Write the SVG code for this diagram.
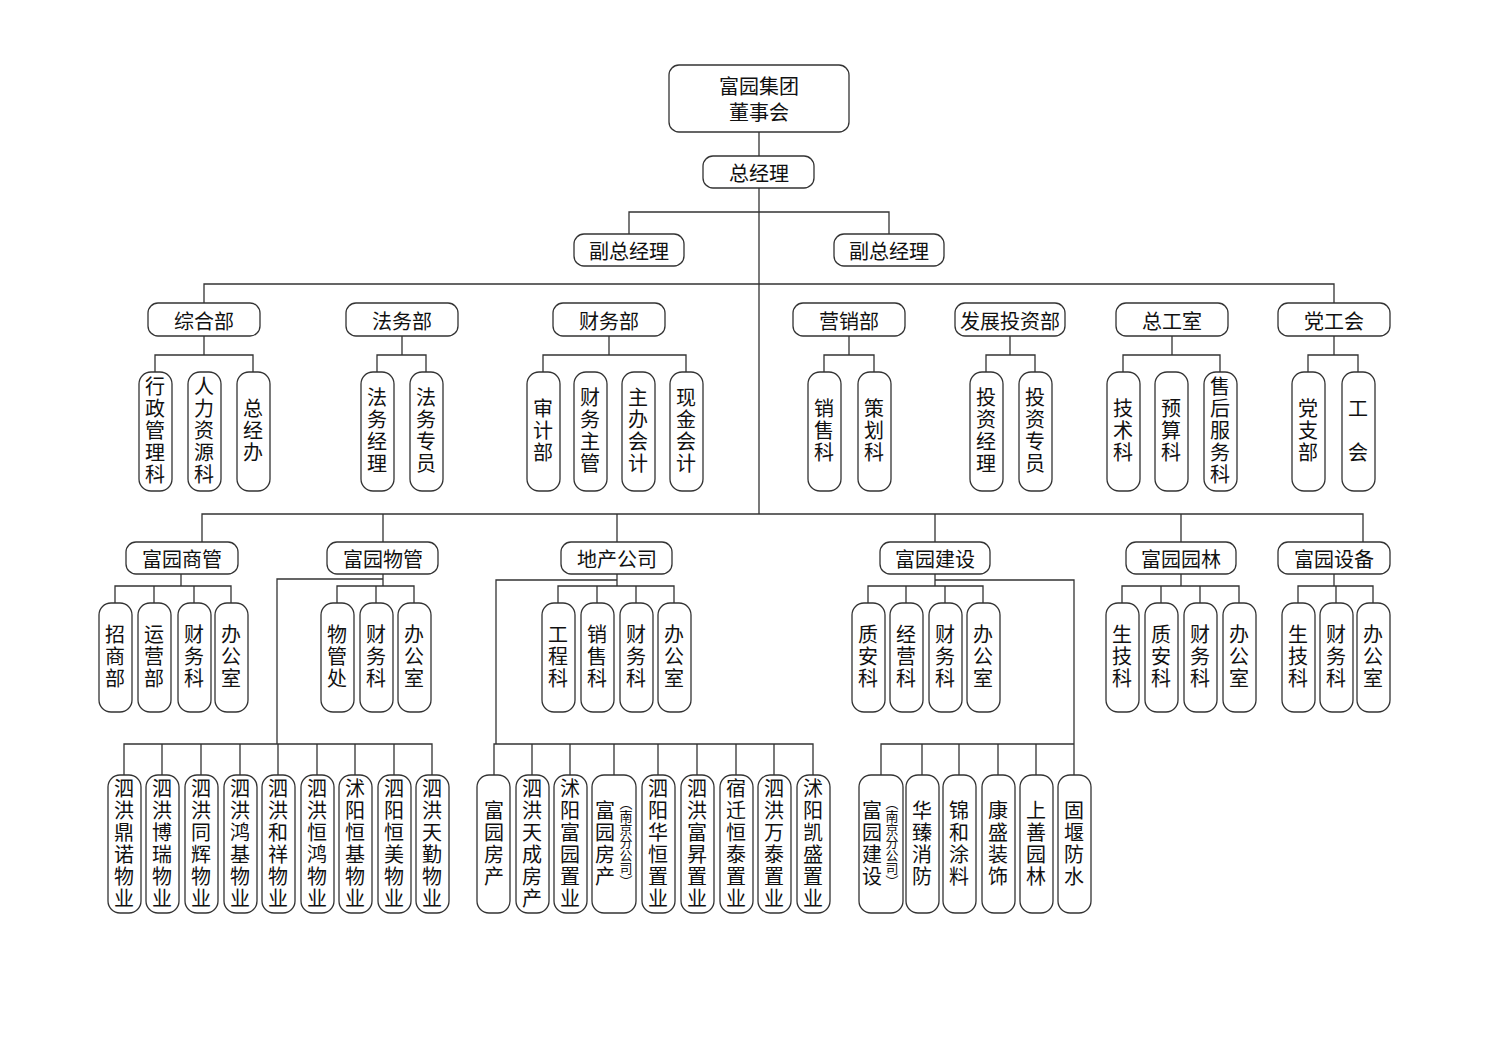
<svg xmlns="http://www.w3.org/2000/svg" width="1500" height="1060" viewBox="0 0 1500 1060">
<style>
rect{fill:#fff;stroke:#333;stroke-width:1.3}
#connectors path{fill:none;stroke:#333;stroke-width:1.3}
text{font-family:"Noto Sans CJK SC","Noto Sans",sans-serif;fill:#111;font-size:20px;text-anchor:middle}
.h{dominant-baseline:central}
.v{writing-mode:vertical-rl;letter-spacing:2px}
.s{writing-mode:vertical-rl;font-size:13px}
</style>
<rect width="1500" height="1060" style="fill:#fff;stroke:none"/>
<g id="connectors">
<path d="M759 132V156M759 188V514M629 234V212H889V234M204 303V284H1334V303"/>
<path d="M204 336V355M155 372V355H253V372M402 336V355M377 372V355H426V372M609 336V355M543 372V355H686V372M849 336V355M824 372V355H874V372M1010 336V355M986 372V355H1035V372M1172 336V355M1123 372V355H1220V372M1334 336V355M1308 372V355H1358V372"/>
<path d="M202 542V514H1363V542M383 514V542M617 514V542M935 514V542M1181 514V542"/>
<path d="M181 574V586M115 603V586H231V603M154 586V603M194 586V603"/>
<path d="M383 574V586M337 603V586H414V603M376 586V603M383 579H277V744M124 775V744H432V775M162 744V775M201 744V775M240 744V775M278 744V775M317 744V775M355 744V775M394 744V775"/>
<path d="M617 574V586M558 603V586H674V603M597 586V603M636 586V603M617 580H496V744M494 775V744H813V775M532 744V775M570 744V775M614 744V775M658 744V775M697 744V775M736 744V775M774 744V775"/>
<path d="M935 574V586M868 603V586H983V603M906 586V603M945 586V603M935 580H1074V775M881 775V744H1074M922 744V775M959 744V775M998 744V775M1036 744V775"/>
<path d="M1181 574V586M1122 603V586H1239V603M1161 586V603M1200 586V603M1334 574V586M1298 603V586H1373V603M1336 586V603"/>
</g>
<g id="board"><rect x="669" y="65" width="180" height="67" rx="10"/><text x="759" y="85" class="h">富园集团</text><text x="759" y="111" class="h">董事会</text></g>
<g id="gm"><rect x="703" y="156" width="111" height="32" rx="10"/><text x="759" y="172" class="h">总经理</text></g>
<g id="vp1"><rect x="574" y="234" width="110" height="32" rx="10"/><text x="629" y="250" class="h">副总经理</text></g>
<g id="vp2"><rect x="834" y="234" width="110" height="32" rx="10"/><text x="889" y="250" class="h">副总经理</text></g>
<g id="d1"><rect x="148" y="303" width="112" height="33" rx="10"/><text x="204" y="320" class="h">综合部</text></g>
<g id="d2"><rect x="346" y="303" width="112" height="33" rx="10"/><text x="402" y="320" class="h">法务部</text></g>
<g id="d3"><rect x="553" y="303" width="112" height="33" rx="10"/><text x="609" y="320" class="h">财务部</text></g>
<g id="d4"><rect x="793" y="303" width="112" height="33" rx="10"/><text x="849" y="320" class="h">营销部</text></g>
<g id="d5"><rect x="955" y="303" width="110" height="33" rx="10"/><text x="1010" y="320" class="h">发展投资部</text></g>
<g id="d6"><rect x="1116" y="303" width="112" height="33" rx="10"/><text x="1172" y="320" class="h">总工室</text></g>
<g id="d7"><rect x="1278" y="303" width="112" height="33" rx="10"/><text x="1334" y="320" class="h">党工会</text></g>
<g id="t1"><rect x="139" y="372" width="33" height="119" rx="12"/><text x="155" y="431" class="v">行政管理科</text></g>
<g id="t2"><rect x="188" y="372" width="33" height="119" rx="12"/><text x="204" y="431" class="v">人力资源科</text></g>
<g id="t3"><rect x="237" y="372" width="33" height="119" rx="12"/><text x="253" y="431" class="v">总经办</text></g>
<g id="t4"><rect x="361" y="372" width="33" height="119" rx="12"/><text x="377" y="431" class="v">法务经理</text></g>
<g id="t5"><rect x="410" y="372" width="33" height="119" rx="12"/><text x="426" y="431" class="v">法务专员</text></g>
<g id="t6"><rect x="527" y="372" width="33" height="119" rx="12"/><text x="543" y="431" class="v">审计部</text></g>
<g id="t7"><rect x="574" y="372" width="33" height="119" rx="12"/><text x="590" y="431" class="v">财务主管</text></g>
<g id="t8"><rect x="622" y="372" width="33" height="119" rx="12"/><text x="638" y="431" class="v">主办会计</text></g>
<g id="t9"><rect x="670" y="372" width="33" height="119" rx="12"/><text x="686" y="431" class="v">现金会计</text></g>
<g id="t10"><rect x="808" y="372" width="33" height="119" rx="12"/><text x="824" y="431" class="v">销售科</text></g>
<g id="t11"><rect x="858" y="372" width="33" height="119" rx="12"/><text x="874" y="431" class="v">策划科</text></g>
<g id="t12"><rect x="970" y="372" width="33" height="119" rx="12"/><text x="986" y="431" class="v">投资经理</text></g>
<g id="t13"><rect x="1019" y="372" width="33" height="119" rx="12"/><text x="1035" y="431" class="v">投资专员</text></g>
<g id="t14"><rect x="1107" y="372" width="33" height="119" rx="12"/><text x="1123" y="431" class="v">技术科</text></g>
<g id="t15"><rect x="1155" y="372" width="33" height="119" rx="12"/><text x="1171" y="431" class="v">预算科</text></g>
<g id="t16"><rect x="1204" y="372" width="33" height="119" rx="12"/><text x="1220" y="431" class="v">售后服务科</text></g>
<g id="t17"><rect x="1292" y="372" width="33" height="119" rx="12"/><text x="1308" y="431" class="v">党支部</text></g>
<g id="t18"><rect x="1342" y="372" width="33" height="119" rx="12"/><text x="1358" y="431" class="v">工　会</text></g>
<g id="c1"><rect x="126" y="542" width="112" height="32" rx="10"/><text x="182" y="558" class="h">富园商管</text></g>
<g id="c2"><rect x="327" y="542" width="111" height="32" rx="10"/><text x="383" y="558" class="h">富园物管</text></g>
<g id="c3"><rect x="561" y="542" width="111" height="32" rx="10"/><text x="617" y="558" class="h">地产公司</text></g>
<g id="c4"><rect x="880" y="542" width="110" height="32" rx="10"/><text x="935" y="558" class="h">富园建设</text></g>
<g id="c5"><rect x="1126" y="542" width="110" height="32" rx="10"/><text x="1181" y="558" class="h">富园园林</text></g>
<g id="c6"><rect x="1278" y="542" width="112" height="32" rx="10"/><text x="1334" y="558" class="h">富园设备</text></g>
<g id="u1"><rect x="99" y="603" width="33" height="109" rx="12"/><text x="115" y="657" class="v">招商部</text></g>
<g id="u2"><rect x="138" y="603" width="33" height="109" rx="12"/><text x="154" y="657" class="v">运营部</text></g>
<g id="u3"><rect x="178" y="603" width="33" height="109" rx="12"/><text x="194" y="657" class="v">财务科</text></g>
<g id="u4"><rect x="215" y="603" width="33" height="109" rx="12"/><text x="231" y="657" class="v">办公室</text></g>
<g id="u5"><rect x="321" y="603" width="33" height="109" rx="12"/><text x="337" y="657" class="v">物管处</text></g>
<g id="u6"><rect x="360" y="603" width="33" height="109" rx="12"/><text x="376" y="657" class="v">财务科</text></g>
<g id="u7"><rect x="398" y="603" width="33" height="109" rx="12"/><text x="414" y="657" class="v">办公室</text></g>
<g id="u8"><rect x="542" y="603" width="33" height="109" rx="12"/><text x="558" y="657" class="v">工程科</text></g>
<g id="u9"><rect x="581" y="603" width="33" height="109" rx="12"/><text x="597" y="657" class="v">销售科</text></g>
<g id="u10"><rect x="620" y="603" width="33" height="109" rx="12"/><text x="636" y="657" class="v">财务科</text></g>
<g id="u11"><rect x="658" y="603" width="33" height="109" rx="12"/><text x="674" y="657" class="v">办公室</text></g>
<g id="u12"><rect x="852" y="603" width="33" height="109" rx="12"/><text x="868" y="657" class="v">质安科</text></g>
<g id="u13"><rect x="890" y="603" width="33" height="109" rx="12"/><text x="906" y="657" class="v">经营科</text></g>
<g id="u14"><rect x="929" y="603" width="33" height="109" rx="12"/><text x="945" y="657" class="v">财务科</text></g>
<g id="u15"><rect x="967" y="603" width="33" height="109" rx="12"/><text x="983" y="657" class="v">办公室</text></g>
<g id="u16"><rect x="1106" y="603" width="33" height="109" rx="12"/><text x="1122" y="657" class="v">生技科</text></g>
<g id="u17"><rect x="1145" y="603" width="33" height="109" rx="12"/><text x="1161" y="657" class="v">质安科</text></g>
<g id="u18"><rect x="1184" y="603" width="33" height="109" rx="12"/><text x="1200" y="657" class="v">财务科</text></g>
<g id="u19"><rect x="1223" y="603" width="33" height="109" rx="12"/><text x="1239" y="657" class="v">办公室</text></g>
<g id="u20"><rect x="1282" y="603" width="33" height="109" rx="12"/><text x="1298" y="657" class="v">生技科</text></g>
<g id="u21"><rect x="1320" y="603" width="33" height="109" rx="12"/><text x="1336" y="657" class="v">财务科</text></g>
<g id="u22"><rect x="1357" y="603" width="33" height="109" rx="12"/><text x="1373" y="657" class="v">办公室</text></g>
<g id="p1"><rect x="108" y="775" width="33" height="138" rx="12"/><text x="124" y="844" class="v">泗洪鼎诺物业</text></g>
<g id="p2"><rect x="146" y="775" width="33" height="138" rx="12"/><text x="162" y="844" class="v">泗洪博瑞物业</text></g>
<g id="p3"><rect x="185" y="775" width="33" height="138" rx="12"/><text x="201" y="844" class="v">泗洪同辉物业</text></g>
<g id="p4"><rect x="224" y="775" width="33" height="138" rx="12"/><text x="240" y="844" class="v">泗洪鸿基物业</text></g>
<g id="p5"><rect x="262" y="775" width="33" height="138" rx="12"/><text x="278" y="844" class="v">泗洪和祥物业</text></g>
<g id="p6"><rect x="301" y="775" width="33" height="138" rx="12"/><text x="317" y="844" class="v">泗洪恒鸿物业</text></g>
<g id="p7"><rect x="339" y="775" width="33" height="138" rx="12"/><text x="355" y="844" class="v">沭阳恒基物业</text></g>
<g id="p8"><rect x="378" y="775" width="33" height="138" rx="12"/><text x="394" y="844" class="v">泗阳恒美物业</text></g>
<g id="p9"><rect x="416" y="775" width="33" height="138" rx="12"/><text x="432" y="844" class="v">泗洪天勤物业</text></g>
<g id="r1"><rect x="477" y="775" width="33" height="138" rx="12"/><text x="494" y="844" class="v">富园房产</text></g>
<g id="r2"><rect x="516" y="775" width="33" height="138" rx="12"/><text x="532" y="844" class="v">泗洪天成房产</text></g>
<g id="r3"><rect x="554" y="775" width="33" height="138" rx="12"/><text x="570" y="844" class="v">沭阳富园置业</text></g>
<g id="r4"><rect x="592" y="775" width="44" height="138" rx="12"/><text x="605" y="844" class="v">富园房产</text><text x="626" y="842" class="s">（南京分公司）</text></g>
<g id="r5"><rect x="642" y="775" width="33" height="138" rx="12"/><text x="658" y="844" class="v">泗阳华恒置业</text></g>
<g id="r6"><rect x="681" y="775" width="33" height="138" rx="12"/><text x="697" y="844" class="v">泗洪富昇置业</text></g>
<g id="r7"><rect x="720" y="775" width="33" height="138" rx="12"/><text x="736" y="844" class="v">宿迁恒泰置业</text></g>
<g id="r8"><rect x="758" y="775" width="33" height="138" rx="12"/><text x="774" y="844" class="v">泗洪万泰置业</text></g>
<g id="r9"><rect x="797" y="775" width="33" height="138" rx="12"/><text x="813" y="844" class="v">沭阳凯盛置业</text></g>
<g id="b1"><rect x="859" y="775" width="44" height="138" rx="12"/><text x="872" y="844" class="v">富园建设</text><text x="892" y="842" class="s">（南京分公司）</text></g>
<g id="b2"><rect x="906" y="775" width="33" height="138" rx="12"/><text x="922" y="844" class="v">华臻消防</text></g>
<g id="b3"><rect x="943" y="775" width="33" height="138" rx="12"/><text x="959" y="844" class="v">锦和涂料</text></g>
<g id="b4"><rect x="982" y="775" width="33" height="138" rx="12"/><text x="998" y="844" class="v">康盛装饰</text></g>
<g id="b5"><rect x="1020" y="775" width="33" height="138" rx="12"/><text x="1036" y="844" class="v">上善园林</text></g>
<g id="b6"><rect x="1058" y="775" width="33" height="138" rx="12"/><text x="1074" y="844" class="v">固堰防水</text></g>
</svg>
